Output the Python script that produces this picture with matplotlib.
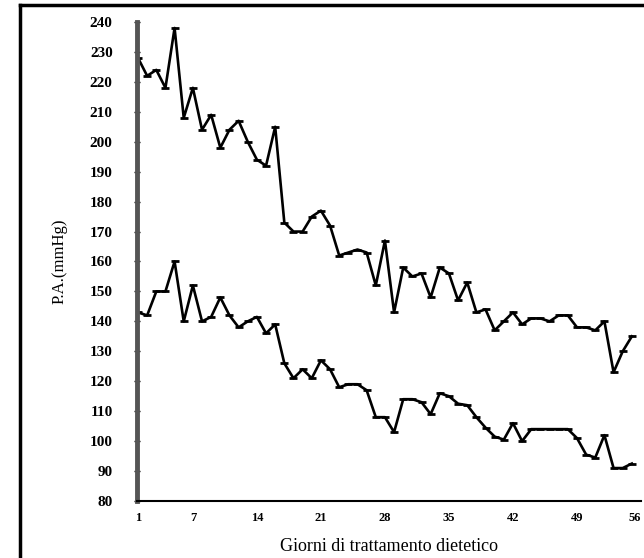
import numpy as np
import matplotlib.pyplot as plt
from matplotlib.lines import Line2D

# giorni di trattamento e pressione arteriosa (mmHg)
giorni = np.arange(1, 56)
sistolica = [228, 222, 224, 218, 238, 208, 218, 204, 209, 198,
             204, 207, 200, 194, 192, 205, 173, 170, 170, 175,
             177, 172, 162, 163, 164, 163, 152, 167, 143, 158,
             155, 156, 148, 158, 156, 147, 153, 143, 144, 137,
             140, 143, 139, 141, 141, 140, 142, 142, 138, 138,
             137, 140, 123, 130, 135]
diastolica = [143, 142, 150, 150, 160, 140, 152, 140, 141.5, 148,
              142, 138, 140, 141.5, 136, 139, 126, 121, 124, 121,
              127, 124, 118, 119, 119, 117, 108, 108, 103, 114,
              114, 113, 109, 116, 115, 112.5, 112, 108, 104.5, 101.5,
              100.5, 106, 100, 104, 104, 104, 104, 104, 101, 95.5,
              94.5, 102, 91, 91, 92.5]
xticks = [1, 7, 14, 21, 28, 35, 42, 49, 56]
yticks = list(range(80, 250, 10))

plt.rcParams['font.family'] = ['Liberation Serif', 'DejaVu Serif']

fig = plt.figure(figsize=(6.44, 5.58), dpi=100)
ax = fig.add_axes([137/644, 1 - 501/558, (641 - 137)/644, (501 - 22)/558])

for serie in (sistolica, diastolica):
    ax.plot(giorni, serie, color='black', lw=1.9, marker='_', ms=6, mew=2)

ax.set_xlim(0.89, 56)
ax.set_ylim(80, 240)
ax.set_xticks(xticks)
ax.set_yticks(yticks)
ax.tick_params(axis='x', length=0, pad=8, labelsize=9)
ax.tick_params(axis='y', direction='inout', length=5, width=1, pad=15, labelsize=11)
for lab in ax.get_xticklabels() + ax.get_yticklabels():
    lab.set_fontweight('bold')
ax.get_xticklabels()[-1].set_horizontalalignment('right')

ax.spines['top'].set_visible(False)
ax.spines['right'].set_visible(False)
ax.spines['left'].set_color('#555555')
ax.spines['left'].set_linewidth(3.5)
ax.spines['bottom'].set_linewidth(1.5)

ax.set_ylabel('P.A.(mmHg)', fontsize=12, labelpad=16)
ax.set_xlabel('Giorni di trattamento dietetico', fontsize=13, labelpad=10)

# cornice
fig.add_artist(Line2D([20/644, 20/644], [0, 1 - 5/558], color='black', lw=2.5,
                      transform=fig.transFigure))
fig.add_artist(Line2D([20/644, 1], [1 - 5/558, 1 - 5/558], color='black', lw=2.5,
                      transform=fig.transFigure))

fig.savefig('out.png', dpi=100)
